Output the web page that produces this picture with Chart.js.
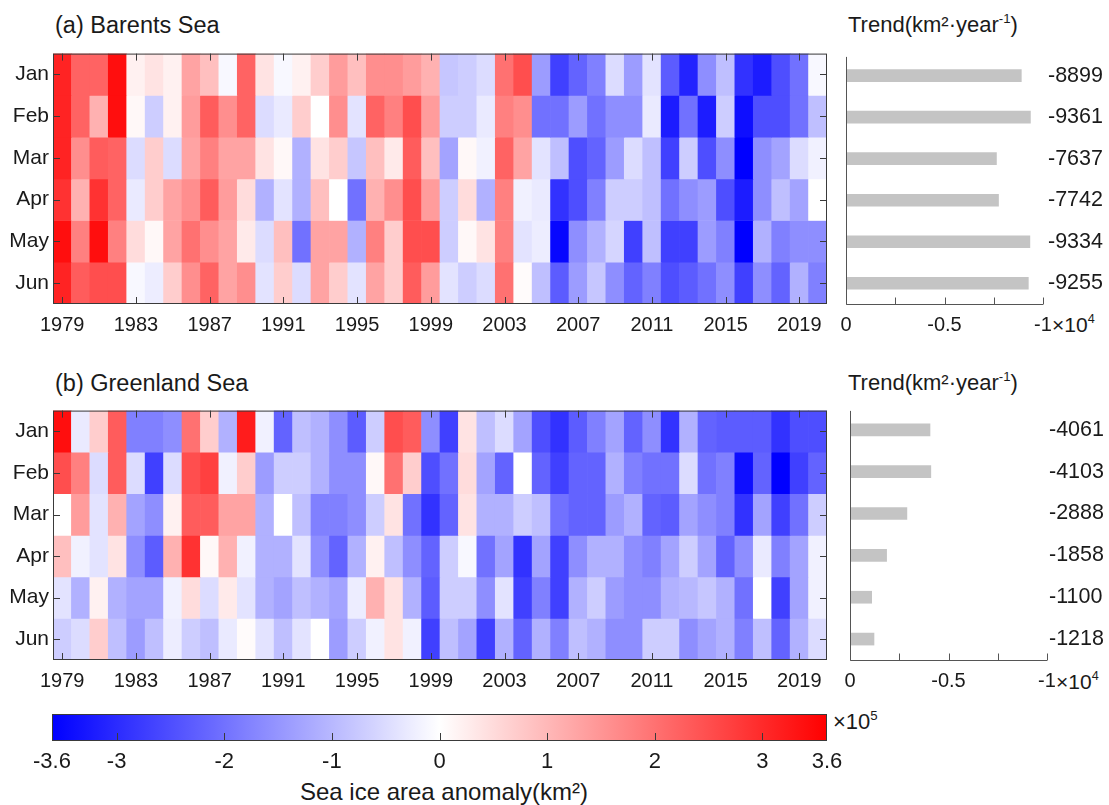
<!DOCTYPE html>
<html><head><meta charset="utf-8">
<script src="https://cdn.jsdelivr.net/npm/chart.js@4.4.1/dist/chart.umd.min.js"></script>
<style>
body{margin:0;background:#fff;width:1109px;height:805px;overflow:hidden;position:relative;font-family:"Liberation Sans",Arial,sans-serif;color:#1a1a1a}
.c{position:absolute}
.t{position:absolute;white-space:nowrap;line-height:26px}
sup{font-size:0.6em;vertical-align:0.7em;line-height:0}
</style></head><body>
<div class="t" style="left:55px;top:12px;font-size:23.5px">(a) Barents Sea</div>
<div class="t" style="left:848px;top:12px;font-size:22px">Trend(km²·year<sup>-1</sup>)</div>
<div class="t" style="left:55px;top:370px;font-size:23.5px">(b) Greenland Sea</div>
<div class="t" style="left:848px;top:370px;font-size:22px">Trend(km²·year<sup>-1</sup>)</div>
<div class="t" style="left:1052px;top:312px;font-size:21px">×10<sup>4</sup></div>
<div class="t" style="left:1056px;top:669px;font-size:21px">×10<sup>4</sup></div>
<div class="t" style="left:833px;top:709px;font-size:22px">×10<sup>5</sup></div>
<div class="t" style="left:244px;width:400px;text-align:center;top:779px;font-size:24px">Sea ice area anomaly(km²)</div>

<div class="c" style="left:0;top:37px"><canvas id="hmA" width="845" height="305"></canvas></div>
<div class="c" style="left:830px;top:37px"><canvas id="trA" width="279" height="305"></canvas></div>
<div class="c" style="left:0;top:394px"><canvas id="hmB" width="845" height="304"></canvas></div>
<div class="c" style="left:830px;top:394px"><canvas id="trB" width="279" height="304"></canvas></div>
<div class="c" style="left:0;top:704px"><canvas id="cb" width="900" height="73"></canvas></div>

<script>
// ---------- data (sea ice area anomaly, x10^5 km^2) ----------
const years = [];
for (let y = 1979; y <= 2020; y++) years.push(String(y));
const months = ['Jan','Feb','Mar','Apr','May','Jun'];

const barentsJan = [3.1,2.2,2.2,3.4,0.2,0.4,0.2,1.3,0.9,-0.1,2.2,0.4,-0.1,0.2,0.7,1.4,0.9,1.6,1.6,1.4,1.1,-0.8,-0.7,-0.5,2.0,2.5,-1.4,-2.7,-2.2,-1.8,-0.5,-1.4,-0.4,-2.3,-3.1,-1.6,-0.9,-2.9,-3.2,-2.5,-2.0,-0.1];
const barentsFeb = [3.1,2.2,1.1,3.4,0.1,-0.7,0.2,1.4,2.3,1.6,2.2,-0.5,-0.3,0.7,0,1.6,-0.4,2.2,1.8,2.5,1.4,-0.7,-0.7,-0.3,1.8,1.6,-2.0,-2.0,-1.4,-2.0,-1.6,-1.6,-0.3,-3.2,-2.0,-3.2,-0.7,-3.4,-2.5,-2.5,-2.0,-0.9];
const barentsMar = [3.1,1.6,2.3,2.2,-0.5,0.7,-0.5,1.3,1.8,1.3,1.3,0.4,0.1,-1.1,0.4,0.7,-0.8,0.9,0.3,2.3,0.9,-1.3,0.1,-0.2,2.2,1.3,-0.4,-0.9,-2.5,-2.2,-1.4,-0.5,-0.9,-2.7,-0.7,-2.5,-1.6,-3.6,-1.6,-1.3,-0.5,-0.2];
const barentsApr = [2.9,1.1,2.9,2.2,-0.3,0.7,1.3,1.6,2.3,1.4,0.5,-1.1,-0.4,-1.1,0.9,0,-2.0,1.1,1.6,2.5,1.4,-0.7,0.5,-1.1,1.8,-0.2,-0.3,-2.9,-2.5,-1.8,-0.7,-0.7,-0.9,-2.0,-1.6,-1.4,-2.5,-3.2,-1.6,-0.9,-1.3,0];
const barentsMay = [3.4,1.8,3.4,1.8,0.5,0.1,1.3,2.0,1.6,1.3,0.3,-0.5,0.9,-2.0,1.3,1.3,-1.1,1.8,0.7,2.5,2.5,-0.7,0.1,0.4,1.8,-0.4,-0.25,-3.5,-1.6,-1.1,-0.6,-2.7,-0.9,-2.7,-2.7,-1.4,-1.8,-3.6,-1.1,-1.8,-1.6,-1.6];
const barentsJun = [3.1,2.3,2.5,2.5,-0.1,-0.25,0.7,1.6,2.2,1.3,1.6,-0.4,0.7,-0.5,1.3,0.7,-0.4,1.3,0.7,2.3,1.4,-0.4,-0.7,-0.5,2.0,0.05,-0.9,-2.3,-1.4,-0.8,-1.6,-2.2,-1.8,-2.5,-2.3,-2.0,-1.6,-2.7,-1.6,-2.2,-1.1,-1.8];

const greenlandJan = [3.4,-0.3,0.7,2.3,-1.8,-1.8,-1.6,2.0,0.7,-1.1,3.2,-0.2,-2.2,-0.9,-1.1,-1.6,-2.3,-0.7,2.5,2.3,-1.6,-2.7,0.4,-0.9,-0.5,-1.3,-2.5,-2.9,-2.3,-1.8,-1.3,-2.2,-1.6,-2.9,-1.1,-2.2,-2.3,-2.3,-2.3,-2.9,-2.5,-2.5];
const greenlandFeb = [2.5,1.8,-0.5,2.3,-0.5,-2.7,-0.5,2.5,2.7,-0.2,0.7,-1.4,-0.7,-0.7,-1.1,-1.6,-1.6,0.1,2.0,0.7,-2.5,-2.0,0.5,-1.3,-2.2,0,-2.2,-2.7,-2.2,-2.2,-1.1,-1.8,-2.0,-2.0,-0.5,-2.0,-1.8,-3.4,-2.2,-3.6,-2.7,-2.2];
const greenlandMar = [0,1.4,-0.4,1.1,-1.3,-1.6,0.2,2.3,2.3,1.3,1.3,-1.1,0,-0.9,-1.8,-1.8,-1.6,-0.7,0.4,-2.0,-2.9,-2.2,0.4,-1.1,-1.1,-0.7,-0.9,-2.0,-2.2,-2.2,-1.4,-1.1,-2.2,-2.3,-1.3,-1.6,-1.8,-2.9,-1.3,-2.7,-2.0,-0.7];
const greenlandApr = [0.9,-0.2,-0.4,0.4,-1.6,-2.3,1.1,2.9,0.1,1.1,-0.2,-1.1,-1.1,-0.4,-1.6,-2.2,-1.1,0.2,-0.9,-1.6,-2.2,-0.7,-0.1,-2.0,-1.3,-2.9,-1.3,-2.7,-1.6,-1.1,-1.1,-1.6,-1.8,-1.3,-0.7,-1.3,-2.2,-1.6,-0.3,-1.8,-1.3,-0.2];
const greenlandMay = [-0.4,-1.1,0.2,-1.1,-1.3,-1.3,-0.2,0.5,-0.5,0.3,-0.4,-1.1,-1.3,-0.9,-1.1,-1.3,-0.25,1.1,0.4,-1.1,-2.3,-0.7,-0.7,-1.6,-0.4,-2.7,-1.8,-2.7,-1.1,-0.7,-1.4,-1.6,-1.6,-1.1,-1.0,-0.8,-1.1,-2.0,0,-2.7,-1.3,-0.2];
const greenlandJun = [-0.7,-0.5,0.7,-0.9,-1.4,-0.9,-0.25,-0.7,-0.9,-0.3,0.05,-0.4,-0.9,-0.4,0,-1.4,-0.7,-0.2,0.4,-0.2,-2.7,-0.9,-1.3,-2.7,-1.1,-2.2,-1.1,-1.8,-0.9,-1.1,-1.6,-1.6,-0.7,-0.7,-1.6,-1.3,-1.1,-1.8,-0.9,-2.2,-1.1,-0.5];

// trends (km^2 per year)
const trendBarents = [-8899,-9361,-7637,-7742,-9334,-9255];
const trendGreenland = [-4061,-4103,-2888,-1858,-1100,-1218];
const trendTicks = [0,-2500,-5000,-7500,-10000];
const trendTickLabels = ['0','','-0.5','','-1'];

// colorbar
const cbMin = -3.6, cbMax = 3.6;
const colorbarTicks = [-3.6,-3,-2,-1,0,1,2,3,3.6];
const colorbarTickLabels = ['-3.6','-3','-2','-1','0','1','2','3','3.6'];

// ---------- rendering ----------
const FONT = '"Liberation Sans", Arial, sans-serif';
Chart.defaults.font.family = FONT;
Chart.defaults.color = '#1a1a1a';
const AX = '#3a3a3a';

function colorOf(v){
  const t = Math.max(-1, Math.min(1, v / cbMax));
  let r, g, b;
  if (t < 0) { r = g = Math.round(255 * (1 + t)); b = 255; }
  else { r = 255; g = b = Math.round(255 * (1 - t)); }
  return 'rgb(' + r + ',' + g + ',' + b + ')';
}

const heatFrame = {
  id: 'heatFrame',
  afterDatasetsDraw(chart){
    const {ctx, chartArea: a, scales} = chart;
    ctx.save();
    ctx.strokeStyle = AX; ctx.lineWidth = 1;
    ctx.strokeRect(a.left + 0.5, a.top + 0.5, a.right - a.left - 1, a.bottom - a.top - 1);
    ctx.beginPath();
    scales.x.ticks.forEach(t => {
      const x = Math.round(scales.x.getPixelForValue(t.value)) + 0.5;
      ctx.moveTo(x, a.bottom); ctx.lineTo(x, a.bottom - 7);
      ctx.moveTo(x, a.top); ctx.lineTo(x, a.top + 7);
    });
    scales.y.ticks.forEach(t => {
      const y = Math.round(scales.y.getPixelForValue(t.value)) + 0.5;
      ctx.moveTo(a.left, y); ctx.lineTo(a.left + 7, y);
      ctx.moveTo(a.right, y); ctx.lineTo(a.right - 7, y);
    });
    ctx.stroke();
    ctx.restore();
  }
};

function heatmap(id, rows){
  const datasets = rows.map((vals, m) => ({
    data: vals.map(() => [m, m + 1]),
    backgroundColor: vals.map(colorOf),
    borderWidth: 0,
    barPercentage: 1,
    categoryPercentage: 1,
    grouped: false
  }));
  return new Chart(document.getElementById(id), {
    type: 'bar',
    data: { labels: years, datasets },
    options: {
      responsive: false, animation: false, devicePixelRatio: 1,
      layout: { padding: { top: 10, right: 18, left: 0, bottom: 0 } },
      plugins: { legend: { display: false }, tooltip: { enabled: false } },
      scales: {
        x: {
          type: 'category', offset: true,
          grid: { display: false, drawTicks: false }, border: { display: false },
          afterBuildTicks: s => { s.ticks = s.ticks.filter(t => t.value % 4 === 0); },
          ticks: { autoSkip: false, maxRotation: 0, padding: 9, font: { size: 20 }, callback: v => years[v] },
          afterFit: s => { s.height = 38; }
        },
        y: {
          type: 'linear', min: 0, max: 6, reverse: true,
          grid: { display: false, drawTicks: false }, border: { display: false },
          afterBuildTicks: s => { s.ticks = months.map((m, i) => ({ value: i + 0.5 })); },
          ticks: { autoSkip: false, padding: 4, font: { size: 21 }, callback: v => months[Math.floor(v)] },
          afterFit: s => { s.width = 53; }
        }
      }
    },
    plugins: [heatFrame]
  });
}

const trendAxes = {
  id: 'trendAxes',
  afterDraw(chart){
    const {ctx, chartArea: a, scales} = chart;
    ctx.save();
    ctx.strokeStyle = '#555'; ctx.lineWidth = 1;
    ctx.beginPath();
    const l = Math.round(a.left) + 0.5, b = Math.round(a.bottom) + 0.5;
    ctx.moveTo(l, a.top + 2); ctx.lineTo(l, b); ctx.lineTo(a.right, b);
    trendTicks.forEach(v => {
      const x = Math.round(scales.x.getPixelForValue(v)) + 0.5;
      ctx.moveTo(x, b); ctx.lineTo(x, b - 7);
    });
    ctx.stroke();
    ctx.restore();
  }
};

function trendChart(id, values, padLeft, rightW, labelPad){
  return new Chart(document.getElementById(id), {
    type: 'bar',
    data: { labels: months, datasets: [{ data: values, backgroundColor: '#c4c4c4', barThickness: 12, borderWidth: 0, yAxisID: 'y', xAxisID: 'x' }] },
    options: {
      indexAxis: 'y', responsive: false, animation: false, devicePixelRatio: 1,
      layout: { padding: { top: 10, left: padLeft, right: 0, bottom: 0 } },
      plugins: { legend: { display: false }, tooltip: { enabled: false } },
      scales: {
        x: {
          type: 'linear', min: -10000, max: 0, reverse: true,
          grid: { display: false, drawTicks: false }, border: { display: false },
          afterBuildTicks: s => { s.ticks = trendTicks.map(v => ({ value: v })); },
          ticks: { autoSkip: false, maxRotation: 0, padding: 9, font: { size: 20 },
                   callback: v => trendTickLabels[trendTicks.indexOf(v)] },
          afterFit: s => { s.height = 38; }
        },
        y: { type: 'category', display: false, offset: true },
        y2: {
          type: 'category', position: 'right', offset: true, labels: values.map(String),
          grid: { display: false, drawTicks: false }, border: { display: false },
          ticks: { padding: labelPad, font: { size: 21.5 } },
          afterFit: s => { s.width = rightW; }
        }
      }
    },
    plugins: [trendAxes]
  });
}

heatmap('hmA', [barentsJan, barentsFeb, barentsMar, barentsApr, barentsMay, barentsJun]);
heatmap('hmB', [greenlandJan, greenlandFeb, greenlandMar, greenlandApr, greenlandMay, greenlandJun]);
trendChart('trA', trendBarents, 16, 66, 5);
trendChart('trB', trendGreenland, 20, 62, 2);

const colorbarDraw = {
  id: 'colorbarDraw',
  beforeDatasetsDraw(chart){
    const {ctx, chartArea: a, scales} = chart;
    const x0 = scales.x.getPixelForValue(cbMin), x1 = scales.x.getPixelForValue(cbMax);
    const g = ctx.createLinearGradient(x0, 0, x1, 0);
    for (let i = 0; i <= 24; i++) {
      const v = cbMin + (cbMax - cbMin) * i / 24;
      g.addColorStop(i / 24, colorOf(v));
    }
    ctx.save();
    ctx.fillStyle = g;
    ctx.fillRect(x0, a.top, x1 - x0, a.bottom - a.top);
    ctx.strokeStyle = AX; ctx.lineWidth = 1;
    ctx.strokeRect(Math.round(x0) + 0.5, Math.round(a.top) + 0.5, Math.round(x1 - x0) - 1, Math.round(a.bottom - a.top) - 1);
    ctx.beginPath();
    colorbarTicks.forEach(v => {
      if (v === cbMin || v === cbMax) return;
      const x = Math.round(scales.x.getPixelForValue(v)) + 0.5;
      ctx.moveTo(x, a.bottom); ctx.lineTo(x, a.bottom - 8);
    });
    ctx.stroke();
    ctx.restore();
  }
};

new Chart(document.getElementById('cb'), {
  type: 'scatter',
  data: { datasets: [{ data: [] }] },
  options: {
    responsive: false, animation: false, devicePixelRatio: 1,
    layout: { padding: { top: 10, left: 52, right: 73, bottom: 0 } },
    plugins: { legend: { display: false }, tooltip: { enabled: false } },
    scales: {
      x: {
        type: 'linear', min: cbMin, max: cbMax,
        grid: { display: false, drawTicks: false }, border: { display: false },
        afterBuildTicks: s => { s.ticks = colorbarTicks.map(v => ({ value: v })); },
        ticks: { autoSkip: false, maxRotation: 0, padding: 8, font: { size: 22 },
                 callback: v => colorbarTickLabels[colorbarTicks.indexOf(v)] },
        afterFit: s => { s.height = 36; }
      },
      y: { display: false, min: 0, max: 1 }
    }
  },
  plugins: [colorbarDraw]
});
</script>
</body></html>
